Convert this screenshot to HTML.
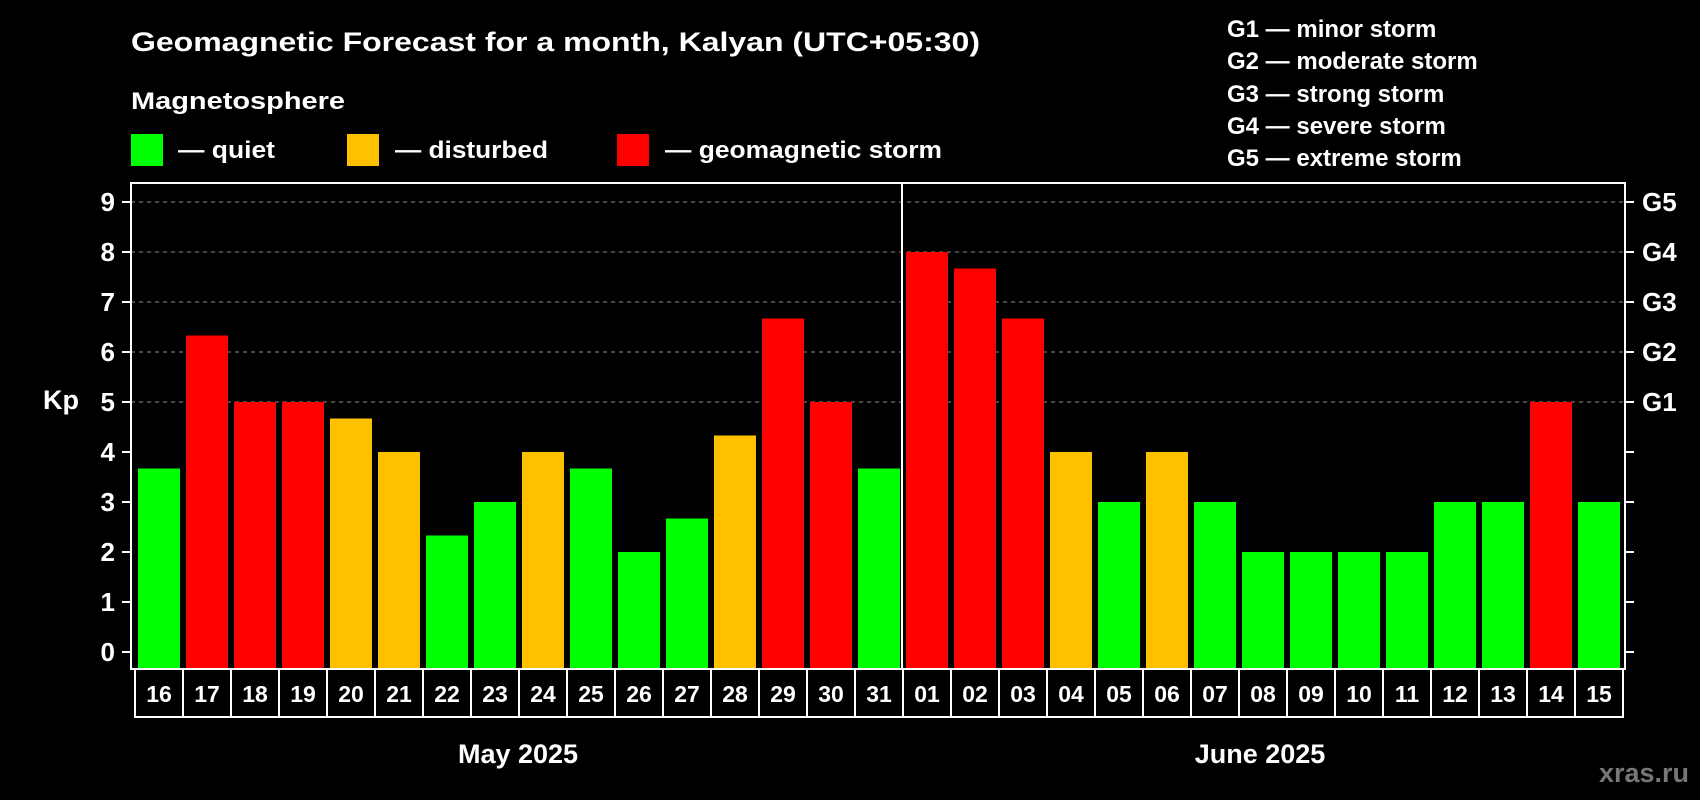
<!DOCTYPE html>
<html><head><meta charset="utf-8"><style>
html,body{margin:0;padding:0;background:#000;}
svg{display:block;font-family:"Liberation Sans",Arial,sans-serif;font-weight:bold;}
</style></head><body>
<svg id="chart" width="1700" height="800" viewBox="0 0 1700 800">
<rect width="1700" height="800" fill="#000"/>
<text x="131" y="51" font-size="27" fill="#fff" textLength="849" lengthAdjust="spacingAndGlyphs">Geomagnetic Forecast for a month, Kalyan (UTC+05:30)</text>
<text x="131" y="109" font-size="24" fill="#fff" textLength="214" lengthAdjust="spacingAndGlyphs">Magnetosphere</text>
<g>
<rect x="131" y="134" width="32" height="32" fill="#00ff00"/>
<text x="178" y="158" font-size="24" fill="#fff" textLength="97" lengthAdjust="spacingAndGlyphs">— quiet</text></g>
<g>
<rect x="347" y="134" width="32" height="32" fill="#ffc000"/>
<text x="395" y="158" font-size="24" fill="#fff" textLength="153" lengthAdjust="spacingAndGlyphs">— disturbed</text></g>
<g>
<rect x="617" y="134" width="32" height="32" fill="#ff0000"/>
<text x="665" y="158" font-size="24" fill="#fff" textLength="277" lengthAdjust="spacingAndGlyphs">— geomagnetic storm</text></g>
<g font-size="24" fill="#fff">
<text x="1227" y="37">G1 — minor storm</text>
<text x="1227" y="69">G2 — moderate storm</text>
<text x="1227" y="102">G3 — strong storm</text>
<text x="1227" y="134">G4 — severe storm</text>
<text x="1227" y="166">G5 — extreme storm</text>
</g>
<text x="43" y="409" font-size="27" fill="#fff">Kp</text>
<g id="grid"></g>
<g id="bars"></g>
<g id="axes"></g>
<text x="518" y="763" font-size="27" fill="#fff" text-anchor="middle">May 2025</text>
<text x="1260" y="763" font-size="27" fill="#fff" text-anchor="middle">June 2025</text>
<text x="1689" y="782" font-size="27" fill="#777" text-anchor="end">xras.ru</text>
</svg>
<script>
const days = ["16","17","18","19","20","21","22","23","24","25","26","27","28","29","30","31","01","02","03","04","05","06","07","08","09","10","11","12","13","14","15"];
const kpValues = [3.67,6.33,5,5,4.67,4,2.33,3,4,3.67,2,2.67,4.33,6.67,5,3.67,8,7.67,6.67,4,3,4,3,2,2,2,2,3,3,5,3];
const yTicks = [0,1,2,3,4,5,6,7,8,9];
const gLabels = ["G1","G2","G3","G4","G5"];
const gLevels = [5,6,7,8,9];

const NS="http://www.w3.org/2000/svg";
const plotL=131, plotR=1625, plotT=183, plotB=669;
function yScale(v){return 652 - v*50;}
function xScale(i){return 138 + i*48;}
const barW=42;
function colorFor(v){return v>=5?"#ff0000":(v>=4?"#ffc000":"#00ff00");}
function mk(tag,attrs,parent){const e=document.createElementNS(NS,tag);for(const k in attrs)e.setAttribute(k,attrs[k]);parent.appendChild(e);return e;}

const grid=document.getElementById('grid');
gLevels.forEach(v=>{
  const l=mk('line',{x1:plotL,x2:plotR,y1:yScale(v),y2:yScale(v),stroke:'#888','stroke-width':1,'stroke-dasharray':'4,4'},grid);
  
  
});

const bars=document.getElementById('bars');
kpValues.forEach((v,i)=>{
  const r=mk('rect',{x:xScale(i),y:yScale(v),width:barW,height:yScale(0)+17-yScale(v)-0,fill:colorFor(v)},bars);
  r.setAttribute('height', plotB - yScale(v));
  
  
});

const axes=document.getElementById('axes');
const frame=mk('rect',{x:plotL,y:plotT,width:plotR-plotL,height:plotB-plotT,fill:'none',stroke:'#fff','stroke-width':2},axes);


const div=mk('line',{x1:902,x2:902,y1:plotT,y2:plotB,stroke:'#fff','stroke-width':2},axes);


yTicks.forEach(v=>{
  mk('line',{x1:122,x2:plotL,y1:yScale(v),y2:yScale(v),stroke:'#fff','stroke-width':2},axes);
  mk('line',{x1:plotR,x2:1634,y1:yScale(v),y2:yScale(v),stroke:'#fff','stroke-width':2},axes);
  const t=mk('text',{x:115,y:yScale(v)+9,'font-size':26,fill:'#fff','text-anchor':'end'},axes);
  t.textContent=v;
  
  
});
gLabels.forEach((g,i)=>{
  const t=mk('text',{x:1642,y:yScale(gLevels[i])+9,'font-size':26,fill:'#fff'},axes);
  t.textContent=g;
  
  
});
days.forEach((d,i)=>{
  const cx=xScale(i)+barW/2;
  const c=mk('rect',{x:cx-24,y:plotB,width:48,height:48,fill:'none',stroke:'#fff','stroke-width':2},axes);
  
  
  const t=mk('text',{x:cx,y:plotB+33,'font-size':23,fill:'#fff','text-anchor':'middle'},axes);
  t.textContent=d;
  
  
});
</script>
</body></html>
